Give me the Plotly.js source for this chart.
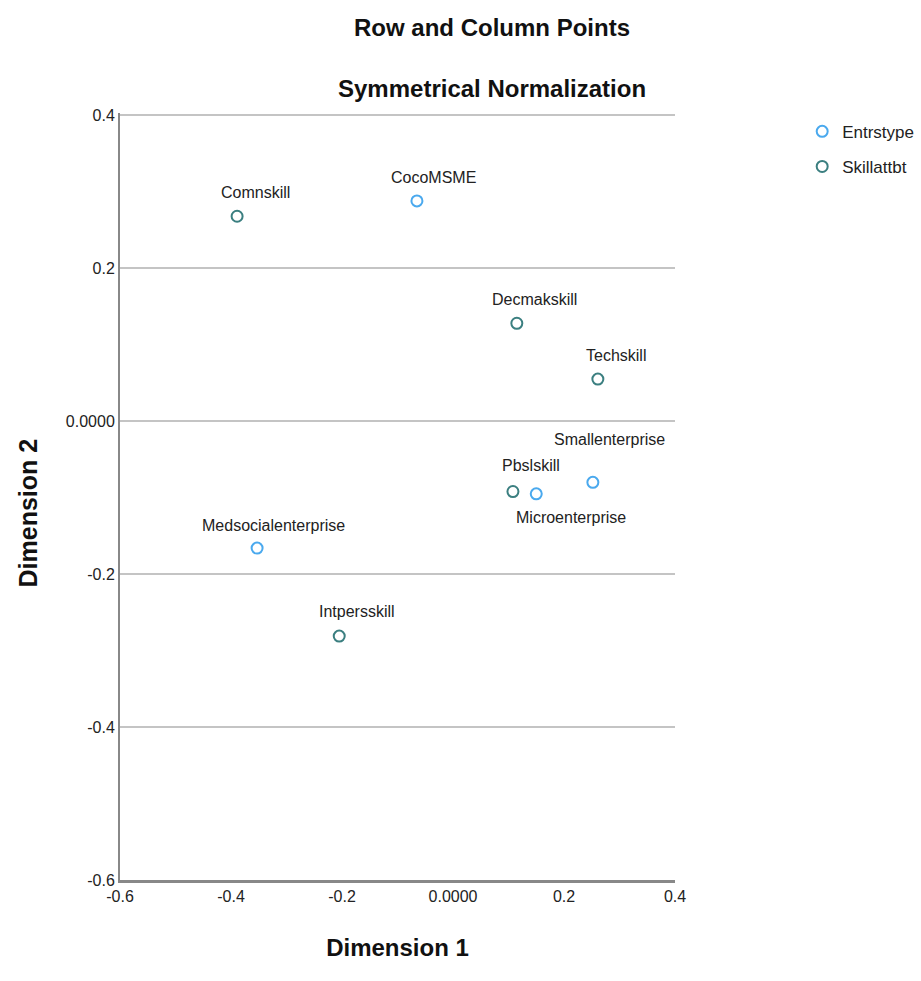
<!DOCTYPE html>
<html>
<head>
<meta charset="utf-8">
<script src="https://cdn.plot.ly/plotly-3.0.1.min.js"></script>
<style>html,body{margin:0;padding:0;background:#fff;}#chart{width:921px;height:981px;}</style>
</head>
<body>
<div id="chart"></div>
<script>
// ---- data ----
const entrNames = ["CocoMSME", "Smallenterprise", "Microenterprise", "Medsocialenterprise"];
const entrDim1 = [-0.065, 0.252, 0.150, -0.353];
const entrDim2 = [0.288, -0.080, -0.095, -0.166];

const skillNames = ["Comnskill", "Decmakskill", "Techskill", "Pbslskill", "Intpersskill"];
const skillDim1 = [-0.389, 0.115, 0.261, 0.108, -0.205];
const skillDim2 = [0.268, 0.128, 0.055, -0.092, -0.281];

const tickVals = [-0.6, -0.4, -0.2, 0, 0.2, 0.4];
const xTickText = ["-0.6", "-0.4", "-0.2", "0.0000", "0.2", "0.4"];
const yTickText = ["-0.6", "-0.4", "-0.2", "0.0000", "0.2", "0.4"];

// ---- label placement (styling) ----
const entrShift = [[17, 23], [17, 43], [35, -24], [16, 23]];
const skillShift = [[18, 24], [18, 24], [18, 24], [18, 26], [18, 25]];

const FONT = "'Liberation Sans', Arial, sans-serif";
const BLUE = "#4aa9ee";
const TEAL = "#3b7f80";

const traces = [
  {
    type: "scatter", mode: "markers", name: "Entrstype",
    x: entrDim1, y: entrDim2, text: entrNames, legendgroup: "a",
    marker: {symbol: "circle-open", size: 11, color: BLUE, line: {width: 2, color: BLUE}}
  },
  {
    type: "scatter", mode: "markers", name: "Skillattbt",
    x: skillDim1, y: skillDim2, text: skillNames, legendgroup: "b",
    marker: {symbol: "circle-open", size: 11, color: TEAL, line: {width: 2, color: TEAL}}
  }
];

const annotations = [];
entrNames.forEach((n, i) => annotations.push({
  x: entrDim1[i], y: entrDim2[i], xref: "x", yref: "y", text: n, showarrow: false,
  xshift: entrShift[i][0], yshift: entrShift[i][1], font: {family: FONT, size: 16, color: "#222"}
}));
skillNames.forEach((n, i) => annotations.push({
  x: skillDim1[i], y: skillDim2[i], xref: "x", yref: "y", text: n, showarrow: false,
  xshift: skillShift[i][0], yshift: skillShift[i][1], font: {family: FONT, size: 16, color: "#222"}
}));
annotations.push({
  xref: "paper", yref: "paper", x: 0.67, y: 1, yshift: 86, xanchor: "center", yanchor: "middle",
  text: "<b>Row and Column Points</b>",
  showarrow: false, font: {family: FONT, size: 24, color: "#111"}
});
annotations.push({
  xref: "paper", yref: "paper", x: 0.67, y: 1, yshift: 25, xanchor: "center", yanchor: "middle",
  text: "<b>Symmetrical Normalization</b>",
  showarrow: false, font: {family: FONT, size: 24, color: "#111"}
});
annotations.push({
  xref: "paper", yref: "paper", x: 0, y: 0.5, xshift: -93, yshift: -17,
  xanchor: "center", yanchor: "middle", textangle: -90,
  text: "<b>Dimension 2</b>",
  showarrow: false, font: {family: FONT, size: 25, color: "#111"}
});

const layout = {
  width: 921, height: 981,
  margin: {l: 120, r: 246, t: 113, b: 101},
  paper_bgcolor: "#fff", plot_bgcolor: "#fff",
  font: {family: FONT, size: 16, color: "#222"},
  showlegend: true,
  legend: {
    xref: "container", yref: "container",
    x: 0.871, y: 0.884, xanchor: "left", yanchor: "top",
    font: {family: FONT, size: 17, color: "#222"},
    itemwidth: 30, tracegroupgap: 10, traceorder: "grouped",
    bgcolor: "rgba(0,0,0,0)"
  },
  xaxis: {
    range: [-0.6, 0.4], tickvals: tickVals, ticktext: xTickText,
    showgrid: false, zeroline: false, showline: true, linecolor: "#888", linewidth: 3,
    ticks: "", tickfont: {family: FONT, size: 16, color: "#222"},
    title: {text: "<b>Dimension 1</b>", font: {family: FONT, size: 24, color: "#111"}, standoff: 35}
  },
  yaxis: {
    range: [-0.6, 0.403], tickvals: tickVals, ticktext: yTickText,
    showgrid: true, gridcolor: "#c4c4c4", gridwidth: 2, zeroline: false,
    showline: true, linecolor: "#888", linewidth: 2,
    ticks: "", tickfont: {family: FONT, size: 16, color: "#222"}
  },
  annotations: annotations
};

Plotly.newPlot("chart", traces, layout, {displayModeBar: false});
</script>
</body>
</html>
